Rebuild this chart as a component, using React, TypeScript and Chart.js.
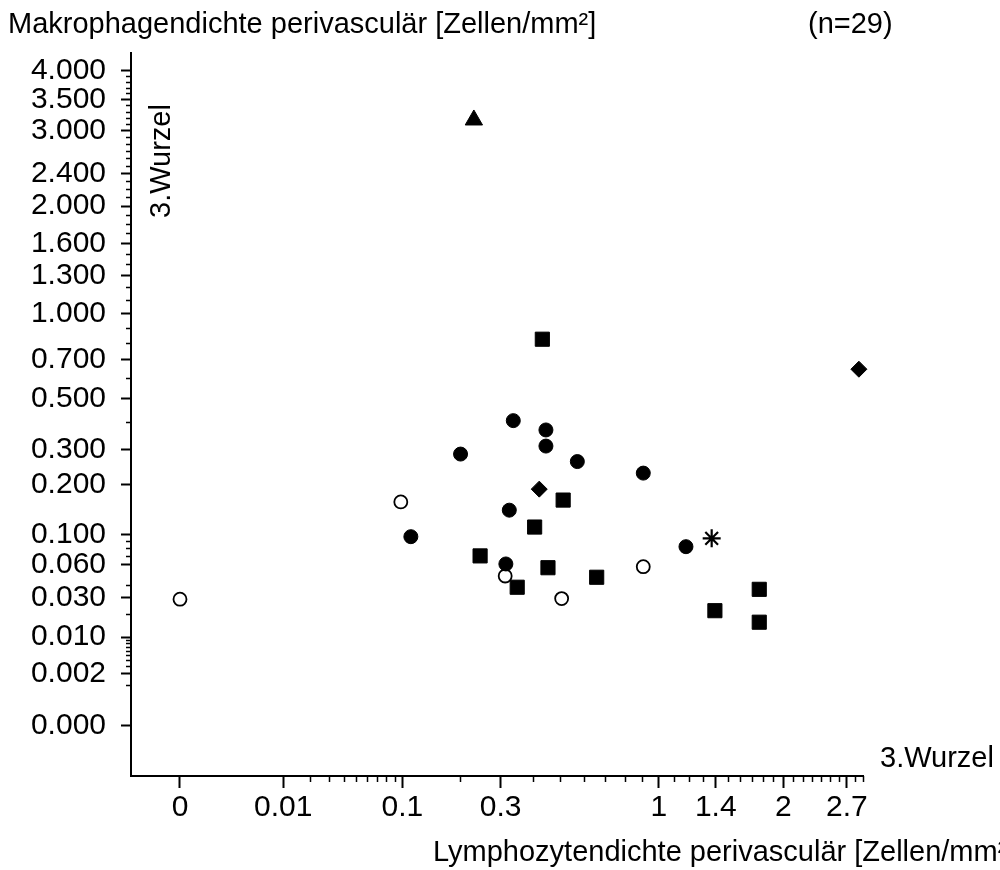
import React, { useEffect, useRef } from 'react';
import { Chart, registerables } from 'chart.js';

Chart.register(...registerables);

// ---- axis ticks (raw values, cube-root scale) ----
const X_TICKS = [0, 0.01, 0.1, 0.3, 1, 1.4, 2, 2.7];
const X_TICK_LABELS = ['0', '0.01', '0.1', '0.3', '1', '1.4', '2', '2.7'];
const X_MINOR = [
  0.02, 0.03, 0.04, 0.05, 0.06, 0.07, 0.08, 0.09, 0.2, 0.4, 0.5, 0.6, 0.7, 0.8, 0.9,
  1.1, 1.2, 1.3, 1.5, 1.6, 1.7, 1.8, 1.9, 2.1, 2.2, 2.3, 2.4, 2.5, 2.6, 2.8, 2.9,
];
const X_MIN = -0.00107;
const X_MAX = 2.9;

const Y_TICKS = [0, 0.002, 0.01, 0.03, 0.06, 0.1, 0.2, 0.3, 0.5, 0.7, 1, 1.3, 1.6, 2, 2.4, 3, 3.5, 4];
const Y_TICK_LABELS = [
  '0.000', '0.002', '0.010', '0.030', '0.060', '0.100', '0.200', '0.300', '0.500',
  '0.700', '1.000', '1.300', '1.600', '2.000', '2.400', '3.000', '3.500', '4.000',
];
const Y_MINOR = [
  0.001, 0.003, 0.004, 0.005, 0.006, 0.007, 0.008, 0.009, 0.02, 0.04, 0.07, 0.08, 0.09,
  0.4, 0.6, 0.8, 0.9, 1.1, 1.2, 1.4, 1.5, 1.7, 1.8, 1.9, 2.1, 2.2, 2.3, 2.5, 2.6, 2.7,
  2.8, 2.9, 3.1, 3.2, 3.3, 3.4, 3.6, 3.7, 3.8, 3.9,
];
const Y_MIN = -0.00178;
const Y_MAX = 4.336;

// ---- data ----
const filledCircleX = [0.337, 0.446, 0.446, 0.201, 0.571, 0.905, 0.325, 0.112, 0.315, 1.179];
const filledCircleY = [0.405, 0.369, 0.312, 0.286, 0.263, 0.23, 0.143, 0.0965, 0.0605, 0.082];

const openCircleX = [0, 0.098, 0.313, 0.506, 0.905];
const openCircleY = [0.029, 0.16, 0.048, 0.0294, 0.0575];

const squareX = [0.433, 0.512, 0.406, 0.246, 0.4535, 0.6585, 0.349, 1.769, 1.393, 1.769];
const squareY = [0.823, 0.164, 0.112, 0.07, 0.0564, 0.0468, 0.038, 0.0363, 0.0218, 0.0159];

const diamondX = [0.422, 2.848];
const diamondY = [0.189, 0.646];

const triangleX = [0.231];
const triangleY = [3.166];

const starX = [1.368];
const starY = [0.094];

const TITLE_Y = 'Makrophagendichte perivasculär [Zellen/mm²]';
const TITLE_N = '(n=29)';
const TITLE_X = 'Lymphozytendichte perivasculär [Zellen/mm²]';
const TRANSFORM_LABEL = '3.Wurzel';

const FONT_FAMILY = '"Liberation Sans", Arial, Helvetica, sans-serif';
const FONT_SIZE = 29;
const TICK_FONT_SIZE = 30;

const cr = (v: number) => Math.cbrt(v);
const toPts = (xs: number[], ys: number[]) => xs.map((x, i) => ({ x: cr(x), y: cr(ys[i]) }));

const decorPlugin = {
  id: 'decor',
  afterDraw(chart: any) {
    const ctx = chart.ctx as CanvasRenderingContext2D;
    const xs = chart.scales.x;
    const ys = chart.scales.y;
    const ca = chart.chartArea;
    ctx.save();
    ctx.strokeStyle = '#000';
    ctx.lineWidth = 1.5;
    ctx.beginPath();
    X_MINOR.forEach((v) => {
      const px = Math.round(xs.getPixelForValue(cr(v))) + 0.5;
      ctx.moveTo(px, ca.bottom);
      ctx.lineTo(px, ca.bottom + 6);
    });
    Y_MINOR.forEach((v) => {
      const py = Math.round(ys.getPixelForValue(cr(v))) + 0.5;
      ctx.moveTo(ca.left - 5, py);
      ctx.lineTo(ca.left, py);
    });
    ctx.stroke();

    ctx.fillStyle = '#000';
    ctx.font = `${FONT_SIZE}px ${FONT_FAMILY}`;
    ctx.textBaseline = 'alphabetic';
    ctx.textAlign = 'left';
    ctx.fillText(TITLE_Y, 8, 33);
    ctx.fillText(TITLE_N, 808, 33);
    ctx.fillText(TRANSFORM_LABEL, 880, 767);
    ctx.fillText(TITLE_X, 433, 861);

    ctx.save();
    ctx.translate(170, 218);
    ctx.rotate(-Math.PI / 2);
    ctx.fillText(TRANSFORM_LABEL, 0, 0);
    ctx.restore();

    ctx.restore();
  },
};

export default function App() {
  const canvasRef = useRef<HTMLCanvasElement | null>(null);

  useEffect(() => {
    if (!canvasRef.current) return;
    const base = { showLine: false, borderColor: '#000', clip: false as any };
    const chart = new Chart(canvasRef.current, {
      type: 'scatter',
      data: {
        datasets: [
          {
            ...base,
            label: 'filled circle',
            data: toPts(filledCircleX, filledCircleY),
            pointStyle: 'circle',
            pointRadius: 7,
            pointBackgroundColor: '#000',
            pointBorderColor: '#000',
            pointBorderWidth: 1,
          },
          {
            ...base,
            label: 'open circle',
            data: toPts(openCircleX, openCircleY),
            pointStyle: 'circle',
            pointRadius: 6.5,
            pointBackgroundColor: '#fff',
            pointBorderColor: '#000',
            pointBorderWidth: 1.8,
          },
          {
            ...base,
            label: 'square',
            data: toPts(squareX, squareY),
            pointStyle: 'rect',
            pointRadius: 10,
            pointBackgroundColor: '#000',
            pointBorderColor: '#000',
            pointBorderWidth: 1,
          },
          {
            ...base,
            label: 'diamond',
            data: toPts(diamondX, diamondY),
            pointStyle: 'rectRot',
            pointRadius: 8,
            pointBackgroundColor: '#000',
            pointBorderColor: '#000',
            pointBorderWidth: 1,
          },
          {
            ...base,
            label: 'triangle',
            data: toPts(triangleX, triangleY),
            pointStyle: 'triangle',
            pointRadius: 10,
            pointBackgroundColor: '#000',
            pointBorderColor: '#000',
            pointBorderWidth: 1,
          },
          {
            ...base,
            label: 'star',
            data: toPts(starX, starY),
            pointStyle: 'star',
            pointRadius: 9,
            pointBackgroundColor: '#000',
            pointBorderColor: '#000',
            pointBorderWidth: 2.2,
          },
        ],
      },
      options: {
        animation: false,
        responsive: true,
        maintainAspectRatio: false,
        events: [],
        layout: { padding: { top: 53, right: 137, left: 0, bottom: 0 } },
        plugins: { legend: { display: false }, tooltip: { enabled: false }, title: { display: false } },
        scales: {
          x: {
            type: 'linear',
            min: cr(X_MIN),
            max: cr(X_MAX),
            afterBuildTicks: (scale: any) => {
              scale.ticks = X_TICKS.map((v) => ({ value: cr(v) }));
            },
            afterFit: (scale: any) => {
              scale.height = 94;
            },
            ticks: {
              autoSkip: false,
              maxRotation: 0,
              minRotation: 0,
              padding: 2,
              color: '#000',
              font: { family: FONT_FAMILY, size: TICK_FONT_SIZE },
              callback: (_v: any, i: number) => X_TICK_LABELS[i],
            },
            grid: {
              display: true,
              drawOnChartArea: false,
              drawTicks: true,
              tickLength: 12,
              tickWidth: 2,
              tickColor: '#000',
            },
            border: { display: true, color: '#000', width: 2 },
          },
          y: {
            type: 'linear',
            min: cr(Y_MIN),
            max: cr(Y_MAX),
            afterBuildTicks: (scale: any) => {
              scale.ticks = Y_TICKS.map((v) => ({ value: cr(v) }));
            },
            afterFit: (scale: any) => {
              scale.width = 131;
            },
            ticks: {
              autoSkip: false,
              padding: 15,
              color: '#000',
              font: { family: FONT_FAMILY, size: TICK_FONT_SIZE },
              callback: (_v: any, i: number) => Y_TICK_LABELS[i],
            },
            grid: {
              display: true,
              drawOnChartArea: false,
              drawTicks: true,
              tickLength: 10,
              tickWidth: 2,
              tickColor: '#000',
            },
            border: { display: true, color: '#000', width: 2 },
          },
        },
      },
      plugins: [decorPlugin],
    });
    return () => chart.destroy();
  }, []);

  return (
    <div style={{ position: 'absolute', left: 0, top: 0, width: 1000, height: 870, background: '#fff' }}>
      <canvas ref={canvasRef} />
    </div>
  );
}
